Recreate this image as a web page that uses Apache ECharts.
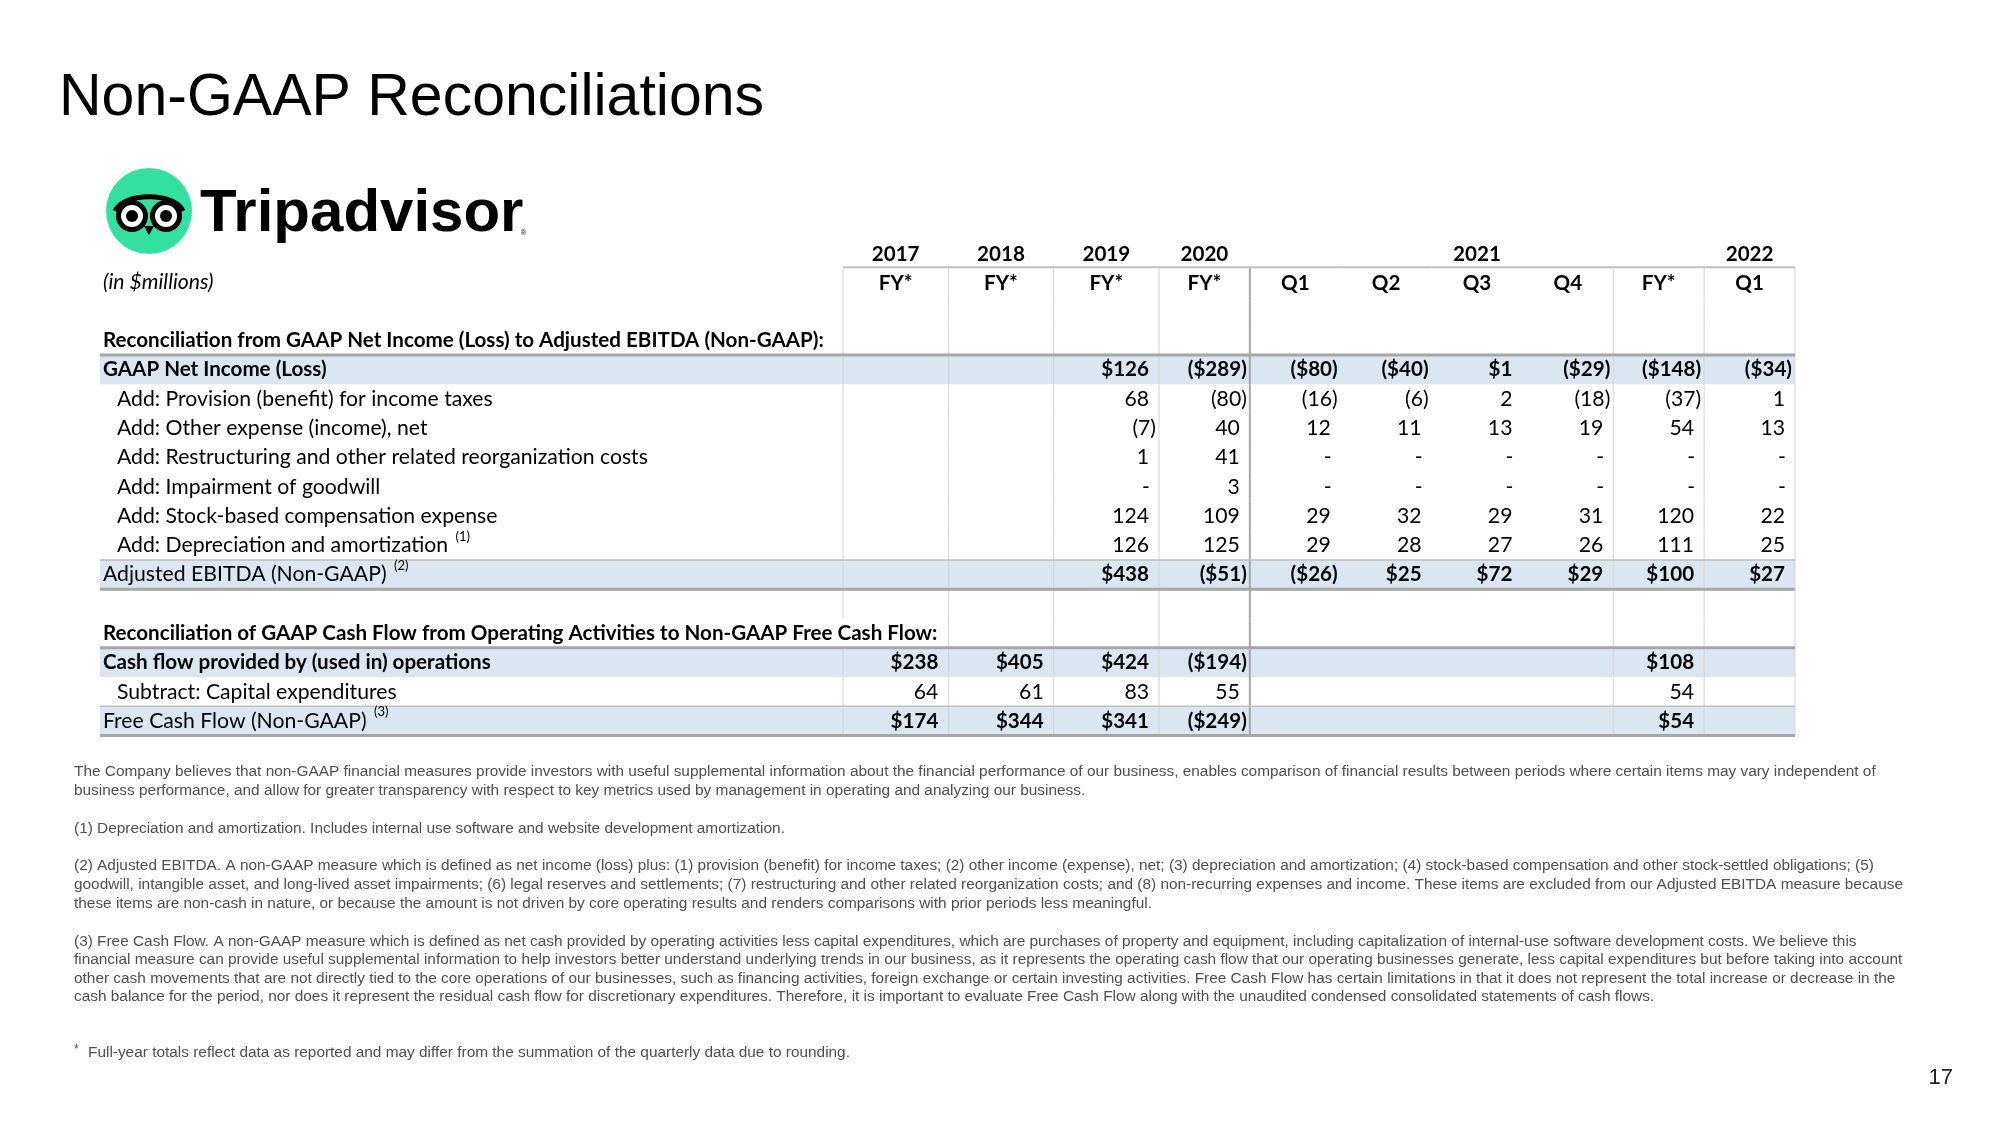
<!DOCTYPE html>
<html><head><meta charset="utf-8">
<script src="https://cdn.jsdelivr.net/npm/echarts@6/dist/echarts.min.js"></script>
<style>html,body{margin:0;padding:0;background:#fff}#c{width:2000px;height:1125px}</style>
</head><body><div id="c"></div>
<script>
// ---------------- DATA ----------------
const yearLabels   = ['2017','2018','2019','2020','2021','2021','2021','2021','2021','2022'];
const periodLabels = ['FY*','FY*','FY*','FY*','Q1','Q2','Q3','Q4','FY*','Q1'];
const rowLabels = [
  '', '(in $millions)', '',
  'Reconciliation from GAAP Net Income (Loss) to Adjusted EBITDA (Non-GAAP):',
  'GAAP Net Income (Loss)',
  'Add: Provision (benefit) for income taxes',
  'Add: Other expense (income), net',
  'Add: Restructuring and other related reorganization costs',
  'Add: Impairment of goodwill',
  'Add: Stock-based compensation expense',
  'Add: Depreciation and amortization',
  'Adjusted EBITDA (Non-GAAP)',
  '',
  'Reconciliation of GAAP Cash Flow from Operating Activities to Non-GAAP Free Cash Flow:',
  'Cash flow provided by (used in) operations',
  'Subtract: Capital expenditures',
  'Free Cash Flow (Non-GAAP)'
];
const rowNotes = ['','','','','','','','','','','(1)','(2)','','','','','(3)'];
const netIncome      = [null, null, 126, -289, -80, -40,  1, -29, -148, -34];
const provisionTaxes = [null, null,  68,  -80, -16,  -6,  2, -18,  -37,   1];
const otherExpense   = [null, null,  -7,   40,  12,  11, 13,  19,   54,  13];
const restructuring  = [null, null,   1,   41,   0,   0,  0,   0,    0,   0];
const impairment     = [null, null,   0,    3,   0,   0,  0,   0,    0,   0];
const stockComp      = [null, null, 124,  109,  29,  32, 29,  31,  120,  22];
const depreciation   = [null, null, 126,  125,  29,  28, 27,  26,  111,  25];
const adjEbitda      = [null, null, 438,  -51, -26,  25, 72,  29,  100,  27];
const cashOps        = [238, 405, 424, -194, null, null, null, null, 108, null];
const capex          = [ 64,  61,  83,   55, null, null, null, null,  54, null];
const freeCashFlow   = [174, 344, 341, -249, null, null, null, null,  54, null];
const rowValues = [null, null, null, null, netIncome, provisionTaxes, otherExpense, restructuring,
  impairment, stockComp, depreciation, adjEbitda, null, null, cashOps, capex, freeCashFlow];

const footnotes = [
  'The Company believes that non-GAAP financial measures provide investors with useful supplemental information about the financial performance of our business, enables comparison of financial results between periods where certain items may vary independent of',
  'business performance, and allow for greater transparency with respect to key metrics used by management in operating and analyzing our business.',
  '(1) Depreciation and amortization. Includes internal use software and website development amortization.',
  '(2) Adjusted EBITDA. A non-GAAP measure which is defined as net income (loss) plus: (1) provision (benefit) for income taxes; (2) other income (expense), net; (3) depreciation and amortization; (4) stock-based compensation and other stock-settled obligations; (5)',
  'goodwill, intangible asset, and long-lived asset impairments; (6) legal reserves and settlements; (7) restructuring and other related reorganization costs; and (8) non-recurring expenses and income. These items are excluded from our Adjusted EBITDA measure because',
  'these items are non-cash in nature, or because the amount is not driven by core operating results and renders comparisons with prior periods less meaningful.',
  '(3) Free Cash Flow. A non-GAAP measure which is defined as net cash provided by operating activities less capital expenditures, which are purchases of property and equipment, including capitalization of internal-use software development costs. We believe this',
  'financial measure can provide useful supplemental information to help investors better understand underlying trends in our business, as it represents the operating cash flow that our operating businesses generate, less capital expenditures but before taking into account',
  'other cash movements that are not directly tied to the core operations of our businesses, such as financing activities, foreign exchange or certain investing activities. Free Cash Flow has certain limitations in that it does not represent the total increase or decrease in the',
  'cash balance for the period, nor does it represent the residual cash flow for discretionary expenditures. Therefore, it is important to evaluate Free Cash Flow along with the unaudited condensed consolidated statements of cash flows.'
];
const starNote = 'Full-year totals reflect data as reported and may differ from the summation of the quarterly data due to rounding.';

// ---------------- LAYOUT / STYLE ----------------
const TFONT = 'Lato, "Noto Sans", sans-serif';
const BAND = '#DCE6F1';
const rowStyle = [
  {}, {italic:true}, {}, {bold:true},
  {bold:true, valBold:true, dollar:true, band:true, top:'thick'},
  {indent:true},{indent:true},{indent:true},{indent:true},{indent:true},{indent:true},
  {valBold:true, dollar:true, band:true, top:'thin', bottom:'thick'},
  {}, {bold:true},
  {bold:true, valBold:true, dollar:true, band:true, top:'thick'},
  {indent:true},
  {valBold:true, dollar:true, band:true, top:'thin', bottom:'thick'}
];
const LEFT_LINES = [0,1,2,3,4,8,9];
const T = 238, RH = 29.27, NR = rowLabels.length;
const grids = [
  {left:100, top:T, width:743, height:RH*NR},
  {left:843, top:T, width:316, height:RH*NR},
  {left:1159, top:T, width:636, height:RH*NR}
];
const TABLE_RIGHT = grids[2].left + grids[2].width;
const gridCols = [[0,1],[0,3],[3,7]];

const mctx = document.createElement('canvas').getContext('2d');
function measure(font, text){ mctx.font = font; return mctx.measureText(text).width; }
function tfont(bold, italic, size){
  return (italic?'italic ':'') + (bold?'bold ':'') + (size || (bold ? 20.6 : 21.2)) + 'px ' + TFONT;
}
function fmt(v, dollar){
  if (v === null || v === undefined) return '';
  if (v === 0) return '-';
  const s = (dollar ? '$' : '') + Math.abs(v);
  return v < 0 ? '(' + s + ')' : s;
}
function hline(x0, x1, y, kind){
  const lw = kind === 'thick' ? 3 : (kind === 'top' ? 2 : 1.5);
  const col = kind === 'thick' ? '#A6A6A6' : '#BFBFBF';
  return {type:'line', shape:{x1:x0, y1:y, x2:x1, y2:y}, style:{stroke:col, lineWidth:lw}, z2:6};
}
function vline(x, y0, y1, dark){
  return {type:'line', shape:{x1:x, y1:y0, x2:x, y2:y1},
    style:{stroke: dark ? '#A6A6A6' : '#D4D4D4', lineWidth: dark ? 2 : 1}, z2:5};
}

// label column + full-width row bands and horizontal rules
function renderLabel(params, api){
  const r = api.value(1);
  const p = api.coord([0, r]), sz = api.size([1, 1]);
  const x0 = p[0]-sz[0]/2, y0 = p[1]-sz[1]/2, y1 = p[1]+sz[1]/2;
  const st = rowStyle[r];
  const ch = [];
  if (st.band) ch.push({type:'rect', shape:{x:x0, y:y0, width:TABLE_RIGHT - x0, height:sz[1]}, style:{fill:BAND}, z2:0});
  if (st.top) ch.push(hline(x0, TABLE_RIGHT, y0, st.top));
  if (st.bottom) ch.push(hline(x0, TABLE_RIGHT, y1, st.bottom));
  const label = rowLabels[r];
  if (label) {
    const f = tfont(st.bold, st.italic);
    const tx = x0 + (st.indent ? 17 : 3);
    ch.push({type:'text', x:tx, y:p[1], style:{text:label, font:f, fill:'#000', align:'left', verticalAlign:'middle'}, z2:10});
    if (rowNotes[r]) {
      const w = measure(f, label + ' ');
      ch.push({type:'text', x:tx + w + 2, y:p[1]-9, style:{text:rowNotes[r], font:tfont(false,false,13), fill:'#000', align:'left', verticalAlign:'middle'}, z2:10});
    }
  }
  return {type:'group', children:ch};
}

function makeCellRenderer(offset){
  return function(params, api){
    const c = api.value(0), r = api.value(1), gc = offset + c;
    const p = api.coord([c, r]), sz = api.size([1, 1]);
    const w = sz[0], h = sz[1];
    const x0 = p[0]-w/2, x1 = p[0]+w/2, y0 = p[1]-h/2, y1 = p[1]+h/2;
    const st = rowStyle[r];
    const ch = [];
    if (r >= 1) {
      if (LEFT_LINES.indexOf(gc) >= 0 && !(r === 13 && gc === 0)) ch.push(vline(x0, y0, y1, gc === 4));
      if (gc === periodLabels.length - 1) ch.push(vline(x1, y0, y1, false));
    }
    if (r === 1) ch.push(hline(x0, x1, y0, 'top'));
    if (r === 0) {
      let a = gc, b = gc;
      while (a > 0 && yearLabels[a-1] === yearLabels[gc]) a--;
      while (b < yearLabels.length-1 && yearLabels[b+1] === yearLabels[gc]) b++;
      const mid = (a + b) / 2;
      if (Math.floor(mid) === gc) {
        const cx = p[0] + (mid - gc) * w;
        ch.push({type:'text', x:cx, y:p[1]+2, style:{text:yearLabels[gc], font:tfont(true), fill:'#000', align:'center', verticalAlign:'middle'}, z2:10});
      }
    } else if (r === 1) {
      ch.push({type:'text', x:p[0], y:p[1]+1, style:{text:periodLabels[gc], font:tfont(true), fill:'#000', align:'center', verticalAlign:'middle'}, z2:10});
    } else if (rowValues[r]) {
      const v = rowValues[r][gc];
      if (v !== null && v !== undefined) {
        const txt = fmt(v, st.dollar);
        let x, al = 'right';
        if (v === 0) { x = x1 - 13; al = 'center'; }
        else if (v < 0) x = x1 - 3;
        else x = x1 - 10;
        ch.push({type:'text', x:x, y:p[1], style:{text:txt, font:tfont(st.valBold), fill:'#000', align:al, verticalAlign:'middle'}, z2:10});
      }
    }
    return {type:'group', children:ch};
  };
}
function cells(offset, n){
  const d = [];
  for (let r = 0; r < NR; r++) for (let c = 0; c < n; c++) d.push([c, r]);
  return d;
}
const rowIdx = rowLabels.map((_, i) => String(i));

// ---------------- GRAPHICS (title, logo, notes) ----------------
const graphic = [
  {type:'text', x:59, y:99, style:{text:'Non-GAAP Reconciliations', font:'59px "Liberation Sans", Arial, sans-serif', fill:'#000', align:'left', verticalAlign:'middle'}},
  {type:'circle', shape:{cx:149, cy:211, r:43}, style:{fill:'#34E0A1'}},
  {type:'bezierCurve', shape:{x1:115, y1:211, cpx1:123, cpy1:192, cpx2:175, cpy2:192, x2:183, y2:211}, style:{stroke:'#000', lineWidth:5, fill:null}},
  {type:'circle', shape:{cx:132, cy:216, r:13.5}, style:{fill:'#fff', stroke:'#000', lineWidth:5}},
  {type:'circle', shape:{cx:166, cy:216, r:13.5}, style:{fill:'#fff', stroke:'#000', lineWidth:5}},
  {type:'circle', shape:{cx:132, cy:216, r:6}, style:{fill:'#000'}},
  {type:'circle', shape:{cx:166, cy:216, r:6}, style:{fill:'#000'}},
  {type:'polygon', shape:{points:[[144,226],[154,226],[149,235]]}, style:{fill:'#000'}},
  {type:'text', x:200, y:214, style:{text:'Tripadvisor', font:'bold 60px "Liberation Sans", Arial, sans-serif', fill:'#000', align:'left', verticalAlign:'middle'}},
  {type:'text', x:521, y:233, style:{text:'®', font:'7px "Liberation Sans", Arial, sans-serif', fill:'#000', align:'left', verticalAlign:'middle'}}
];
const NOTE_FONT = '15.4px "Liberation Sans", Arial, sans-serif';
const noteY = [772, 791, 829, 866, 885, 904, 942, 960, 979, 997];
footnotes.forEach((t, i) => {
  graphic.push({type:'text', x:74, y:noteY[i], style:{text:t, font:NOTE_FONT, fill:'#4F4F4F', align:'left', verticalAlign:'middle'}});
});
graphic.push({type:'text', x:74, y:1050, style:{text:'*', font:'12px "Liberation Sans", Arial, sans-serif', fill:'#4F4F4F', align:'left', verticalAlign:'middle'}});
graphic.push({type:'text', x:88, y:1053, style:{text:starNote, font:NOTE_FONT, fill:'#4F4F4F', align:'left', verticalAlign:'middle'}});
graphic.push({type:'text', x:1953, y:1078, style:{text:'17', font:'22px "Liberation Sans", Arial, sans-serif', fill:'#222', align:'right', verticalAlign:'middle'}});

const chart = echarts.init(document.getElementById('c'), null, {renderer:'canvas'});
chart.setOption({
  animation:false,
  backgroundColor:'#fff',
  grid: grids,
  xAxis: gridCols.map((gcInfo, g) => ({gridIndex:g, type:'category', show:false,
    data: Array.from({length:gcInfo[1]}, (_, i) => String(gcInfo[0] + i))})),
  yAxis: grids.map((_, g) => ({gridIndex:g, type:'category', inverse:true, show:false, data:rowIdx})),
  series: [
    {type:'custom', xAxisIndex:0, yAxisIndex:0, clip:false, silent:true, renderItem:renderLabel, data:rowLabels.map((_, i) => [0, i])},
    {type:'custom', xAxisIndex:1, yAxisIndex:1, clip:false, silent:true, renderItem:makeCellRenderer(0), data:cells(0, 3)},
    {type:'custom', xAxisIndex:2, yAxisIndex:2, clip:false, silent:true, renderItem:makeCellRenderer(3), data:cells(3, 7)}
  ],
  graphic: graphic
});
</script></body></html>
